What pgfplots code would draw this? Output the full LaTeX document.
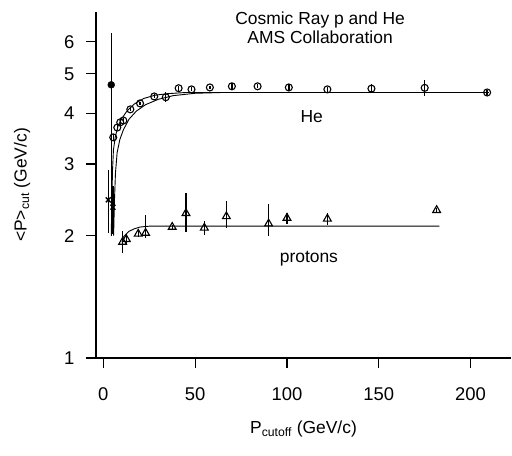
\documentclass[border=0pt]{standalone}
\usepackage{fontspec}
\setmainfont{Liberation Sans}
\usepackage{pgfplots}
\usepackage{pgfplotstable}
\pgfplotsset{compat=1.18}
\pgfplotstableread{
x y ep em
5.4 3.49 0.06 0.06
7.6 3.69 0.05 0.05
9.2 3.80 0.05 0.05
10.9 3.84 0.05 0.05
14.7 4.09 0.04 0.04
20 4.23 0.04 0.04
27.7 4.40 0.05 0.05
34 4.38 0.12 0.12
41 4.61 0.06 0.06
48 4.58 0.05 0.05
58 4.63 0.05 0.05
70 4.66 0.10 0.10
84 4.66 0.05 0.05
101 4.63 0.10 0.10
122 4.58 0.06 0.06
146 4.60 0.12 0.12
175 4.62 0.20 0.20
209 4.50 0.06 0.06
}\hedata
\pgfplotstableread{
x y ep em
10.5 1.93 0.12 0.12
12.5 1.96 0.06 0.06
19 2.02 0.04 0.04
23 2.03 0.22 0.06
37.5 2.10 0.03 0.03
45 2.27 0.27 0.23
55 2.09 0.08 0.08
67 2.23 0.20 0.14
90 2.14 0.25 0.14
100 2.21 0.07 0.07
122 2.20 0.08 0.08
181.5 2.31 0.03 0.03
}\pdata
\pgfplotstableread{
x y ep em
4.3 4.7 1.6 2.7
}\helow
\pgfplotstableread{
x y ep em
2.7 2.45 0.45 0.42
5.2 2.35 0.30 0.33
}\plow
\begin{document}
\begin{tikzpicture}
\begin{axis}[
  scale only axis, width=415bp, height=346bp,
  xmin=-4, xmax=222, ymode=log, ymin=1, ymax=7.1,
  axis lines=left, axis line style={-, line width=1.2pt},
  xtick={0,50,100,150,200},
  ytick={1,2,3,4,5,6}, yticklabels={1,2,3,4,5,6},
  yminorticks=false, xminorticks=false,
  tick align=outside, major tick length=10bp,
  tick style={line width=1.2pt, black},
  /pgf/number format/assume math mode=true,
  ticklabel style={font=\fontsize{18.5}{20}\selectfont},
  xticklabel style={yshift=-16bp},
  yticklabel style={xshift=-8bp},
  every axis x label/.style={at={(rel axis cs:0.5,-0.206)}, anchor=center, font=\fontsize{17.5}{20}\selectfont},
  every axis y label/.style={at={(rel axis cs:-0.178,0.5)}, anchor=center, rotate=90, font=\fontsize{17.5}{20}\selectfont},
  xlabel={P\textsubscript{cutoff} (GeV/c)},
  ylabel={<P>\textsubscript{cut} (GeV/c)},
  clip=false,
  error bars/error bar style={line width=1.4pt},
  error bars/error mark=none,
]
% He fit curves
\addplot[black, line width=0.9pt] coordinates {(4.3,2.0) (4.6,2.4) (5.0,2.9) (5.5,3.25) (6.5,3.5) (8,3.72) (10,3.88) (13,4.06) (17,4.22) (22,4.35) (28,4.43) (35,4.47) (45,4.5) (60,4.5) (210,4.5)};
\addplot[black, line width=0.9pt] coordinates {(5.6,2.0) (6.0,2.4) (6.6,2.85) (7.5,3.2) (9,3.45) (11,3.65) (14,3.87) (18,4.05) (23,4.2) (30,4.33) (38,4.42) (50,4.48) (65,4.5) (210,4.5)};
% proton fit curve
\addplot[black, line width=0.9pt] coordinates {(10.3,1.97) (12,2.01) (14,2.05) (17,2.08) (20,2.10) (25,2.11) (31,2.11) (183,2.11)};
% He data
\addplot[black, only marks, mark=o, mark size=3.5bp, mark options={line width=1.1pt},
  error bars/.cd, y dir=both, y explicit]
  table[x=x, y=y, y error plus=ep, y error minus=em]{\hedata};
\addplot[black, only marks, mark=*, mark size=3.5bp,
  error bars/.cd, y dir=both, y explicit]
  table[x=x, y=y, y error plus=ep, y error minus=em]{\helow};
% proton data
\addplot[black, only marks, mark=triangle, mark size=4.5bp, mark options={line width=1.1pt},
  error bars/.cd, y dir=both, y explicit]
  table[x=x, y=y, y error plus=ep, y error minus=em]{\pdata};
\addplot[black, only marks, mark=x, mark size=3.5bp, mark options={line width=1.4pt},
  error bars/.cd, y dir=both, y explicit]
  table[x=x, y=y, y error plus=ep, y error minus=em]{\plow};
% labels
\node[anchor=base, font=\fontsize{17.5}{20}\selectfont] at (rel axis cs:0.54,0.965) {Cosmic Ray p and He};
\node[anchor=base, font=\fontsize{17.5}{20}\selectfont] at (rel axis cs:0.54,0.910) {AMS Collaboration};
\node[anchor=base, font=\fontsize{17.5}{20}\selectfont] at (rel axis cs:0.52,0.682) {He};
\node[anchor=base, font=\fontsize{17.5}{20}\selectfont] at (rel axis cs:0.513,0.277) {protons};
\end{axis}
\pgfresetboundingbox
\useasboundingbox (current axis.south west) ++(-96bp,-98bp) rectangle ++(512bp,456bp);
\end{tikzpicture}
\end{document}
